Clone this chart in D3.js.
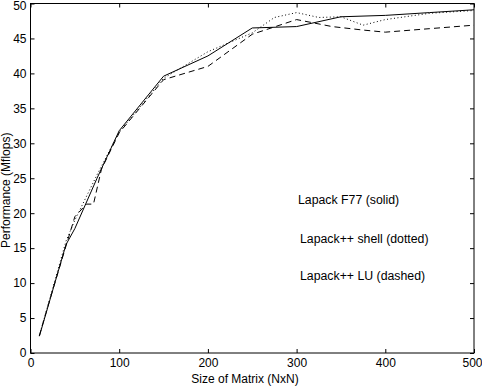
<!DOCTYPE html>
<html><head><meta charset="utf-8">
<script src="https://cdn.jsdelivr.net/npm/d3@7"></script>
<style>
body{margin:0;background:#fff;}
svg{display:block;font-family:"Liberation Sans",Arial,Helvetica,sans-serif;}
</style></head>
<body><svg id="c" width="482" height="386"></svg>
<script>
const xTicks = [0,100,200,300,400,500];
const yTicks = [0,5,10,15,20,25,30,35,40,45,50];
const xLabel = "Size of Matrix (NxN)";
const yLabel = "Performance (Mflops)";
const legendLabels = ["Lapack F77 (solid)","Lapack++ shell (dotted)","Lapack++ LU (dashed)"];

const f77N   = [10,40,50,75,100,150,200,250,300,350,400,450,500];
const f77P   = [2.4,15.5,17.8,25,31.8,39.6,42.5,46.5,46.7,48.1,48.3,48.7,49.1];
const shellN = [10,40,50,75,100,150,200,250,275,300,325,350,375,400,450,500];
const shellP = [2.5,16,19,25.5,31.6,39.3,43.1,45.8,48.0,48.7,48.0,48.1,46.9,47.7,48.6,49.0];
const luN    = [10,25,50,63,71,80,100,150,200,250,300,340,375,400,450,500];
const luP    = [2.5,9,19.5,21.3,21.3,26.3,31.5,39.1,41.0,45.6,47.7,46.7,46.2,45.9,46.4,46.9];

const svg = d3.select("#c");
const m = {l:30.5, r:8, t:3.5, b:33};
const W = 482, H = 386;
const x = d3.scaleLinear().domain([0,500]).range([m.l, W-m.r]);
const y = d3.scaleLinear().domain([0,50]).range([H-m.b, m.t]);

const tickFont = "12px";
const gB = svg.append("g").attr("transform",`translate(0,${y(0)})`)
  .call(d3.axisBottom(x).tickValues(xTicks).tickSize(-4).tickPadding(5).tickFormat(d3.format("d")));
const gL = svg.append("g").attr("transform",`translate(${x(0)},0)`)
  .call(d3.axisLeft(y).tickValues(yTicks).tickSize(-4).tickPadding(4).tickFormat(d3.format("d")));
const gT = svg.append("g").attr("transform",`translate(0,${y(50)})`)
  .call(d3.axisTop(x).tickValues(xTicks).tickSize(-4).tickFormat(""));
const gR = svg.append("g").attr("transform",`translate(${x(500)},0)`)
  .call(d3.axisRight(y).tickValues(yTicks).tickSize(-4).tickFormat(""));
[gB,gL,gT,gR].forEach(g=>{
  g.select(".domain").remove();
  g.selectAll("line").attr("stroke","#000").attr("stroke-width",1);
  g.selectAll("text").attr("fill","#000").style("font-size",tickFont).style("font-family","Liberation Sans, Arial, sans-serif");
});
// keep last bottom label inside the picture
gB.selectAll(".tick text").filter(d=>d===500).attr("dx","-2");
gL.selectAll(".tick text").filter(d=>d===50).attr("dy","0.5em");

svg.append("rect").attr("x",x(0)).attr("y",y(50))
  .attr("width",x(500)-x(0)).attr("height",y(0)-y(50))
  .attr("fill","none").attr("stroke","#000").attr("stroke-width",1);

const line = d3.line().x(d=>x(d[0])).y(d=>y(d[1]));
const series = [
  {n:f77N,p:f77P,dash:null},
  {n:shellN,p:shellP,dash:"1,2.5"},
  {n:luN,p:luP,dash:"6,4"}
];
series.forEach(s=>{
  svg.append("path").datum(s.n.map((v,i)=>[v,s.p[i]]))
    .attr("d",line).attr("fill","none").attr("stroke","#000").attr("stroke-width",1)
    .attr("stroke-dasharray",s.dash);
});

const legY = [200,239,276];
const legX = [298,300,300];
legendLabels.forEach((t,i)=>{
  svg.append("text").attr("x",legX[i]).attr("y",legY[i]).attr("dy","0.35em")
    .style("font-size","12.3px").attr("fill","#000").text(t);
});

svg.append("text").attr("x",245).attr("y",379).attr("dy","0.35em")
  .attr("text-anchor","middle").style("font-size","12px").text(xLabel);
svg.append("text").attr("transform",`translate(6,${(y(0)+y(50))/2 + 12}) rotate(-90)`)
  .attr("dy","0.35em").attr("text-anchor","middle").style("font-size","12px").text(yLabel);
</script></body></html>
